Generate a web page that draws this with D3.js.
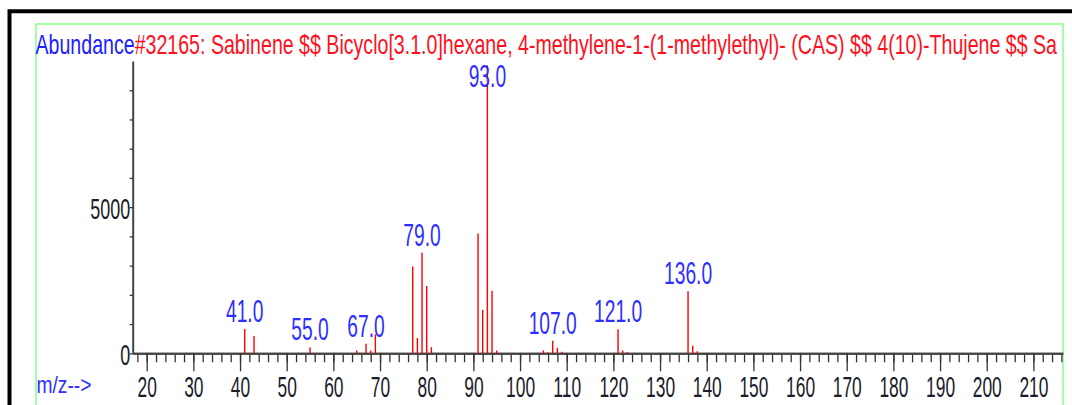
<!DOCTYPE html>
<html>
<head>
<meta charset="utf-8">
<script src="https://cdn.jsdelivr.net/npm/d3@7"></script>
<style>
    body { margin: 0; background: #fff; }
    svg { display: block; font-family: "Liberation Sans", Arial, sans-serif; }
</style>
</head>
<body>
<div id="chart"></div>
<script>
// spectrum data
const mzValues  = [41, 43, 55, 65, 67, 68, 69, 77, 78, 79, 80, 81, 91, 92, 93, 94, 95, 105, 106, 107, 108, 109, 121, 122, 123, 136, 137, 138];
const abundance = [830, 590, 200, 100, 330, 100, 650, 2970, 520, 3440, 2300, 210, 4100, 1490, 9850, 2140, 100, 100, 40, 430, 190, 50, 820, 100, 40, 2120, 260, 70];
const labeledMz = [41, 55, 67, 79, 93, 107, 121, 136];

const titlePrefix = "Abundance";
const titleText = "#32165: Sabinene $$ Bicyclo[3.1.0]hexane, 4-methylene-1-(1-methylethyl)- (CAS) $$ 4(10)-Thujene $$ Sa";
const xAxisName = "m/z-->";
const yLabelTicks = [0, 5000];

const width = 1072, height = 405;
const peaks = mzValues.map((m, i) => ({mz: m, value: abundance[i]}));

const svg = d3.select("#chart").append("svg")
    .attr("width", width)
    .attr("height", height);

svg.append("rect").attr("width", width).attr("height", height).attr("fill", "#fff");

// scales
let x = d3.scaleLinear().domain([17, 216.3]).range([132.7, 1062.8]);
let y = d3.scaleLinear().domain([0, 10000]).range([353.3, 61]);

// outer black frame + green plot box
svg.append("path")
    .attr("d", "M9.5," + height + "V11.3H" + width)
    .attr("fill", "none")
    .attr("stroke", "#000")
    .attr("stroke-width", 4);

svg.append("rect")
    .attr("x", 36).attr("y", 24)
    .attr("width", 1027).attr("height", 420)
    .attr("fill", "none")
    .attr("stroke", "#88ff88")
    .attr("stroke-width", 1.5);

svg.append("clipPath").attr("id", "boxClip")
    .append("rect").attr("x", 30).attr("y", 20).attr("width", 1033).attr("height", 400);

// title (clipped at the right side of the green box)
let title = svg.append("g")
    .attr("clip-path", "url(#boxClip)")
    .append("text")
    .attr("transform", "translate(35.5,54) scale(0.70,1)")
    .attr("font-size", 28);
title.append("tspan").attr("fill", "#2020ff").text(titlePrefix);
title.append("tspan").attr("fill", "#ff1020").text(titleText);

// x axis: minor ticks every 2, major every 10 with labels
let xMinor = d3.axisBottom(x)
    .tickValues(d3.range(18, 217, 2))
    .tickSize(9)
    .tickSizeOuter(0)
    .tickFormat("");
let xMajor = d3.axisBottom(x)
    .tickValues(d3.range(20, 211, 10))
    .tickSize(18)
    .tickPadding(5)
    .tickSizeOuter(0);

let gxMinor = svg.append("g").attr("transform", "translate(0," + y(0) + ")").call(xMinor);
let gxMajor = svg.append("g").attr("transform", "translate(0," + y(0) + ")").call(xMajor);

// y axis
let yAxis = d3.axisLeft(y)
    .tickValues(d3.range(0, 9001, 1000))
    .tickSize(3)
    .tickPadding(1)
    .tickSizeOuter(0)
    .tickFormat(d => yLabelTicks.includes(d) ? d : "");
let gy = svg.append("g").attr("transform", "translate(" + x(17) + ",0)").call(yAxis);

[gxMinor, gxMajor, gy].forEach(g => {
    g.select(".domain").attr("stroke", "#444").attr("stroke-width", 2);
    g.selectAll(".tick line").attr("stroke", "#333").attr("stroke-width", 1.3);
    g.selectAll(".tick text")
        .attr("fill", "#1c1c2a")
        .attr("font-size", 29)
        .attr("font-family", "'Liberation Sans', Arial, sans-serif");
});
gxMajor.selectAll(".tick text").attr("transform", "scale(0.6,1)");
gy.selectAll(".tick text").attr("transform", "scale(0.62,1)").attr("dy", "0.4em");

// m/z label
svg.append("text")
    .attr("transform", "translate(36.5,393) scale(0.8,1)")
    .attr("font-size", 24)
    .attr("fill", "#3030ff")
    .text(xAxisName);

// peaks
svg.append("g").selectAll("line")
    .data(peaks)
    .enter()
    .append("line")
    .attr("x1", d => x(d.mz))
    .attr("x2", d => x(d.mz))
    .attr("y1", y(0))
    .attr("y2", d => y(d.value))
    .attr("stroke", "#ff0000")
    .attr("stroke-width", 1.4);

// peak labels
let labeled = peaks.filter(d => labeledMz.includes(d.mz));
svg.append("g").selectAll("text")
    .data(labeled)
    .enter()
    .append("text")
    .attr("transform", d => "translate(" + x(d.mz) + "," + Math.max(87, y(d.value) - 7) + ") scale(0.62,1)")
    .attr("text-anchor", "middle")
    .attr("font-size", 31)
    .attr("fill", "#2e2eff")
    .text(d => d.mz.toFixed(1));
</script>
</body>
</html>
